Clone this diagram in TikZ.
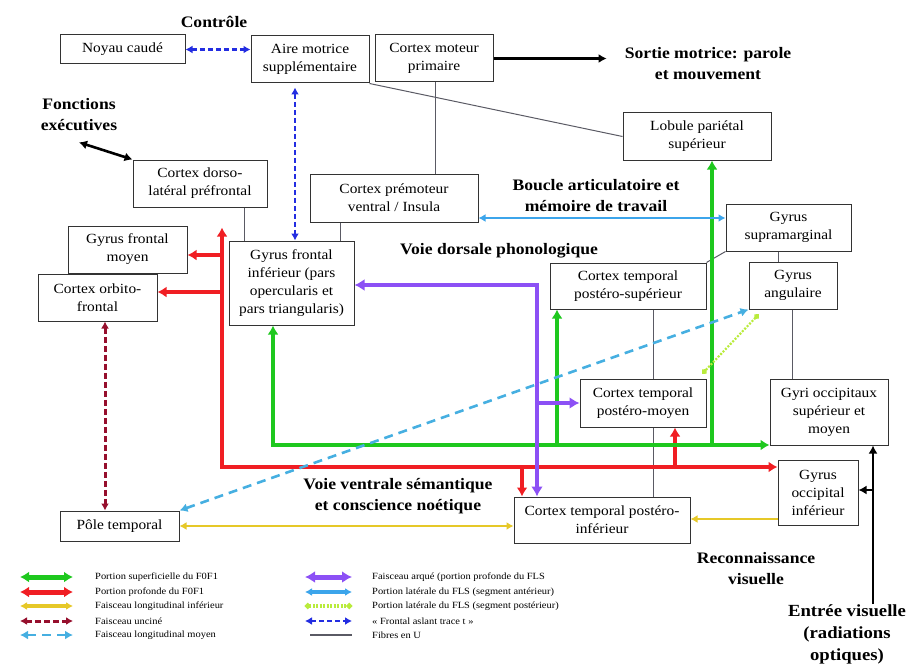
\documentclass[tikz,border=0pt]{standalone}
\usepackage{fontspec}
\setmainfont{Liberation Serif}[FakeStretch=1.1]
\usetikzlibrary{arrows.meta, positioning, calc}

\definecolor{fofvert}{RGB}{30,200,30}
\definecolor{fofrouge}{RGB}{240,30,35}
\definecolor{arqviolet}{RGB}{140,80,245}
\definecolor{flijaune}{RGB}{230,200,40}
\definecolor{flsbleu}{RGB}{60,165,235}
\definecolor{flspost}{RGB}{185,235,60}
\definecolor{uncrouge}{RGB}{150,15,45}
\definecolor{fatbleu}{RGB}{35,45,225}
\definecolor{flmbleu}{RGB}{70,175,225}
\definecolor{fibgris}{RGB}{90,90,100}

\begin{document}
\begin{tikzpicture}[x=1pt, y=-1pt,
  box/.style={draw=black!80, fill=white, line width=1pt, align=center, inner sep=1pt, font=\fontsize{14}{18}\selectfont},
  lbl/.style={align=center, inner sep=0pt, font=\bfseries\fontsize{16}{21}\selectfont},
  leg/.style={anchor=west, inner sep=0pt, font=\fontsize{9.5}{12}\selectfont},
  fofsup/.style={draw=fofvert, line width=3.8pt, >={Latex[length=9pt,width=11pt]}},
  fofpro/.style={draw=fofrouge, line width=3.8pt, >={Latex[length=9pt,width=11pt]}},
  arq/.style={draw=arqviolet, line width=4pt, >={Latex[length=10pt,width=12pt]}},
  fli/.style={draw=flijaune, line width=2.6pt, >={Latex[length=7pt,width=8pt]}},
  flsa/.style={draw=flsbleu, line width=2.6pt, >={Latex[length=7pt,width=8pt]}},
  flsp/.style={draw=flspost, line width=2.2pt, dash pattern=on 2pt off 1.5pt, {Circle[length=5.5pt]}-{Circle[length=5.5pt]}},
  unc/.style={draw=uncrouge, line width=3pt, dash pattern=on 6pt off 3pt, >={Latex[length=7pt,width=8pt]}},
  fat/.style={draw=fatbleu, line width=2.6pt, dash pattern=on 5pt off 3pt, >={Latex[length=7pt,width=8pt]}},
  flm/.style={draw=flmbleu, line width=2.6pt, dash pattern=on 9pt off 6pt, >={Latex[length=8pt,width=9pt]}},
  noir/.style={draw=black, line width=2.6pt, >={Latex[length=8pt,width=9pt]}},
  fib/.style={draw=fibgris, line width=1pt}]
\useasboundingbox (0,0) rectangle (909,666);

% boites
\node[box, minimum width=125pt, minimum height=29pt] (nc) at (122.5,49.5) {Noyau caudé};
\node[box, minimum width=118pt, minimum height=47pt] (ams) at (310,59.5) {Aire motrice\\supplémentaire};
\node[box, minimum width=118pt, minimum height=47pt] (cmp) at (434,58.5) {Cortex moteur\\primaire};
\node[box, minimum width=134pt, minimum height=47pt] (dlpf) at (200,183.5) {Cortex dorso-\\latéral préfrontal};
\node[box, minimum width=168pt, minimum height=48pt] (cpv) at (394,198) {Cortex prémoteur\\ventral / Insula};
\node[box, minimum width=148pt, minimum height=47pt] (lps) at (697,136.5) {Lobule pariétal\\supérieur};
\node[box, minimum width=125pt, minimum height=47pt] (gsm) at (788.5,227.5) {Gyrus\\supramarginal};
\node[box, minimum width=88pt, minimum height=47pt] (ga) at (793,285.5) {Gyrus\\angulaire};
\node[box, minimum width=156pt, minimum height=46pt] (ctps) at (628,286) {Cortex temporal\\postéro-supérieur};
\node[box, minimum width=125pt, minimum height=84pt] (gfi) at (291.5,283) {Gyrus frontal\\inférieur (pars\\opercularis et\\pars triangularis)};
\node[box, minimum width=119pt, minimum height=47pt] (gfm) at (127.5,249.5) {Gyrus frontal\\moyen};
\node[box, minimum width=119pt, minimum height=47pt] (cof) at (97.5,297.5) {Cortex orbito-\\frontal};
\node[box, minimum width=126pt, minimum height=48pt] (ctpm) at (643,403) {Cortex temporal\\postéro-moyen};
\node[box, minimum width=118pt, minimum height=66pt] (gyri) at (829,412) {Gyri occipitaux\\supérieur et\\moyen};
\node[box, minimum width=80pt, minimum height=65pt] (gyoi) at (818,492.5) {Gyrus\\occipital\\inférieur};
\node[box, minimum width=176pt, minimum height=46pt] (ctpi) at (602,520) {Cortex temporal postéro-\\inférieur};
\node[box, minimum width=119pt, minimum height=30pt] (pt) at (119.5,526) {Pôle temporal};

% textes
\node[lbl] (ctrl) at (214,22) {Contrôle};
\node[lbl] (sortie) at (708,64) {Sortie motrice: parole\\et mouvement};
\node[lbl] (fe) at (79,115) {Fonctions\\exécutives};
\node[lbl] (boucle) at (596,196) {Boucle articulatoire et\\mémoire de travail};
\node[lbl] (vdp) at (499,251) {Voie dorsale phonologique};
\node[lbl] (vvs) at (398,496) {Voie ventrale sémantique\\et conscience noétique};
\node[lbl] (rv) at (756,569) {Reconnaissance\\visuelle};
\node[lbl, font=\bfseries\fontsize{17}{22}\selectfont] (ev) at (847,634) {Entrée visuelle\\(radiations\\optiques)};

% points de passage
\coordinate (gA) at (273,445);
\coordinate (gB) at (557,445);
\coordinate (gC) at (712,445);
\coordinate (rA) at (222,467);
\coordinate (rB) at (222,255);
\coordinate (rC) at (222,292);
\coordinate (rD) at (522,467);
\coordinate (rE) at (675,467);
\coordinate (vA) at (537,285);
\coordinate (vB) at (537,403);
\coordinate (jA) at (0,519);
\coordinate (uA) at (105,0);
\coordinate (bA) at (0,218);
\coordinate (fA) at (295,0);
\coordinate (eA) at (873,490);
\coordinate (ux1) at (435,0);
\coordinate (ux2) at (244,0);
\coordinate (ux3) at (340,0);
\coordinate (ux4) at (778,0);
\coordinate (ux5) at (792,0);
\coordinate (ux6) at (653,0);

% fibres en U
\draw[fib] (ams.south east) -- (lps.west);
\draw[fib] (ux1 |- cmp.south) -- (ux1 |- cpv.north);
\draw[fib] (ux2 |- dlpf.south) -- (ux2 |- gfi.north);
\draw[fib] (ux3 |- cpv.south) -- (ux3 |- gfi.north);
\draw[fib] (gsm.south west) -- (ctps.north east);
\draw[fib] (ux4 |- gsm.south) -- (ux4 |- ga.north);
\draw[fib] (ux5 |- ga.south) -- (ux5 |- gyri.north);
\draw[fib] (ux6 |- ctps.south) -- (ux6 |- ctpm.north);
\draw[fib] (ux6 |- ctpm.south) -- (ux6 |- ctpi.north);

% FOF profond
\draw[fofpro, <->, shorten <=20pt] (rA |- dlpf.south) -- (rA) -- (rA -| gyoi.west);
\draw[fofpro, ->] (rB) -- (rB -| gfm.east);
\draw[fofpro, ->] (rC) -- (rC -| cof.east);
\draw[fofpro, ->] (rD) -- (rD |- ctpi.north);
\draw[fofpro, ->] (rE) -- (rE |- ctpm.south);

% FOF superficiel
\draw[fofsup, <->] (gA |- gfi.south) -- (gA) -- (gA -| gyri.west);
\draw[fofsup, ->] (gB) -- (gB |- ctps.south);
\draw[fofsup, ->] (gC) -- (gC |- lps.south);

% arque
\draw[arq, <->] (gfi.east |- vA) -- (vA) -- (vA |- ctpi.north);
\draw[arq, ->] (vB) -- (vB -| ctpm.west);

% FLI
\draw[fli, <->] (pt.east) -- (pt.east -| ctpi.west);
\draw[fli, ->] (jA -| gyoi.west) -- (jA -| ctpi.east);

% unc, FLM, FLS
\draw[unc, <->] (uA |- cof.south) -- (uA |- pt.north);
\draw[flm, <->] (pt.north east) -- (ga.south west);
\draw[flsa, <->] (bA -| cpv.east) -- (bA -| gsm.west);
\draw[flsp] ([xshift=10pt, yshift=-5pt]ga.south west) -- ([xshift=-4pt, yshift=5pt]ctpm.north east);

% frontal aslant
\draw[fat, <->] (nc.east) -- (nc.east -| ams.west);
\draw[fat, <->, shorten <=4pt] (fA |- ams.south) -- (fA |- gfi.north);

% entrees / sorties
\draw[noir, ->, shorten >=18pt] (cmp.east) -- (cmp.east -| sortie.west);
\draw[noir, <->] ([yshift=-11pt]fe.south) -- (dlpf.north west);
\draw[noir, ->] (eA |- ev.north) -- (eA |- gyri.south);
\draw[noir, ->] (eA) -- (eA -| gyoi.east);

% legende
\node[leg] (l1) at (95,577) {Portion superficielle du F0F1};
\node[leg] (l2) at (95,592) {Portion profonde du F0F1};
\node[leg] (l3) at (95,606) {Faisceau longitudinal inférieur};
\node[leg] (l4) at (95,621) {Faisceau unciné};
\node[leg] (l5) at (95,635) {Faisceau longitudinal moyen};
\node[leg] (m1) at (372,577) {Faisceau arqué (portion profonde du FLS};
\node[leg] (m2) at (372,592) {Portion latérale du FLS (segment antérieur)};
\node[leg] (m3) at (372,606) {Portion latérale du FLS (segment postérieur)};
\node[leg] (m4) at (372,621) {« Frontal aslant trace t »};
\node[leg] (m5) at (372,635) {Fibres en U};
\draw[fofsup, <->, line width=5pt] ([xshift=-75pt]l1.west) -- ([xshift=-22pt]l1.west);
\draw[fofpro, <->, line width=5pt] ([xshift=-75pt]l2.west) -- ([xshift=-22pt]l2.west);
\draw[fli, <->, line width=3.4pt] ([xshift=-75pt]l3.west) -- ([xshift=-22pt]l3.west);
\draw[unc, <->] ([xshift=-75pt]l4.west) -- ([xshift=-22pt]l4.west);
\draw[flm, <->] ([xshift=-75pt]l5.west) -- ([xshift=-22pt]l5.west);
\draw[arq, <->, line width=5pt] ([xshift=-67pt]m1.west) -- ([xshift=-20pt]m1.west);
\draw[flsa, <->, line width=3.4pt] ([xshift=-67pt]m2.west) -- ([xshift=-20pt]m2.west);
\draw[flsp, line width=3.4pt] ([xshift=-67pt]m3.west) -- ([xshift=-20pt]m3.west);
\draw[fat, <->] ([xshift=-67pt]m4.west) -- ([xshift=-20pt]m4.west);
\draw[fib, line width=2pt] ([xshift=-62pt]m5.west) -- ([xshift=-20pt]m5.west);
\end{tikzpicture}
\end{document}
